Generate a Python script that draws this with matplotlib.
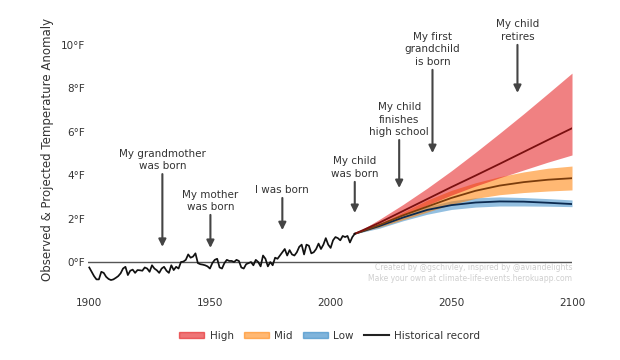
import matplotlib
matplotlib.use("Agg")
import matplotlib.pyplot as plt
from matplotlib.patches import Patch
from matplotlib.lines import Line2D

hist_years = list(range(1900, 2011))
hist_temp = [-0.25, -0.45, -0.65, -0.8, -0.8, -0.45, -0.5, -0.68, -0.78, -0.83,
             -0.8, -0.73, -0.65, -0.52, -0.3, -0.22, -0.6, -0.4, -0.35, -0.5,
             -0.37, -0.38, -0.4, -0.25, -0.3, -0.45, -0.15, -0.3, -0.38, -0.5,
             -0.3, -0.22, -0.4, -0.5, -0.15, -0.37, -0.22, -0.3, 0.0, 0.02,
             0.1, 0.35, 0.2, 0.25, 0.4, -0.05, -0.1, -0.12, -0.15, -0.2,
             -0.3, -0.05, 0.1, 0.15, -0.25, -0.3, -0.05, 0.1, 0.05, 0.05,
             0.0, 0.1, 0.05, -0.25, -0.3, -0.1, -0.05, 0.0, -0.15, 0.1,
             0.0, -0.2, 0.3, 0.15, -0.2, 0.0, -0.15, 0.2, 0.15, 0.3,
             0.45, 0.6, 0.3, 0.55, 0.35, 0.3, 0.45, 0.7, 0.8, 0.35,
             0.8, 0.75, 0.4, 0.45, 0.6, 0.85, 0.6, 0.8, 1.1, 0.8,
             0.65, 1.0, 1.15, 1.1, 1.0, 1.2, 1.15, 1.2, 0.9, 1.15, 1.3]

proj_years = [2010, 2020, 2030, 2040, 2050, 2060, 2070, 2080, 2090, 2100]
high_mean = [1.3, 1.8, 2.35, 2.9, 3.45, 3.98, 4.52, 5.07, 5.62, 6.16]
high_top = [1.3, 1.95, 2.65, 3.4, 4.2, 5.05, 5.93, 6.83, 7.76, 8.7]
high_bot = [1.3, 1.7, 2.15, 2.62, 3.08, 3.5, 3.88, 4.24, 4.6, 4.93]
mid_mean = [1.3, 1.7, 2.15, 2.55, 2.95, 3.28, 3.52, 3.68, 3.79, 3.86]
mid_top = [1.3, 1.75, 2.3, 2.85, 3.3, 3.65, 3.93, 4.15, 4.32, 4.42]
mid_bot = [1.3, 1.6, 1.95, 2.3, 2.65, 2.93, 3.1, 3.2, 3.27, 3.32]
low_mean = [1.3, 1.65, 2.05, 2.4, 2.62, 2.74, 2.79, 2.78, 2.73, 2.67]
low_top = [1.3, 1.7, 2.15, 2.55, 2.82, 2.96, 3.0, 2.97, 2.92, 2.86]
low_bot = [1.3, 1.55, 1.9, 2.2, 2.42, 2.53, 2.58, 2.58, 2.57, 2.55]

event_labels = ["My grandmother\nwas born", "My mother\nwas born", "I was born",
                "My child\nwas born", "My child\nfinishes\nhigh school",
                "My first\ngrandchild\nis born", "My child\nretires"]
event_years = [1930.3, 1950.2, 1980, 2010, 2028.4, 2042.2, 2077.4]
event_tip = [0.7, 0.65, 1.47, 2.26, 3.41, 5.02, 7.79]
event_tail = [4.05, 2.17, 2.95, 3.69, 5.62, 8.85, 10.0]

y_ticks = [0, 2, 4, 6, 8, 10]
y_tick_labels = ["0°F", "2°F", "4°F", "6°F", "8°F", "10°F"]
x_ticks = [1900, 1950, 2000, 2050, 2100]

fig = plt.figure(figsize=(6.2, 3.6), dpi=100)
ax = fig.add_axes([0.1412, 0.2058, 0.7814, 0.76])
ax.set_xlim(1899.3, 2100)
ax.set_ylim(-1.1, 11.5)

ax.axhline(0, color="#555555", lw=1.0, zorder=1)

ax.fill_between(proj_years, low_bot, low_top, color="#3a8cc8", alpha=0.55, lw=0, zorder=2)
ax.fill_between(proj_years, mid_bot, mid_top, color="#ff7f00", alpha=0.55, lw=0, zorder=3)
ax.fill_between(proj_years, high_bot, high_top, color="#e41a1c", alpha=0.55, lw=0, zorder=4)
ax.plot(proj_years, low_mean, color="#0b2a50", lw=1.3, zorder=5)
ax.plot(proj_years, mid_mean, color="#7a3c0c", lw=1.3, zorder=5)
ax.plot(proj_years, high_mean, color="#7a1010", lw=1.3, zorder=5)
ax.plot(hist_years, hist_temp, color="#111111", lw=1.25, zorder=6)

for lab, yr, tip, tail in zip(event_labels, event_years, event_tip, event_tail):
    ax.annotate("", xy=(yr, tip), xytext=(yr, tail),
                arrowprops=dict(arrowstyle="-|>", color="#444444", lw=1.5,
                                mutation_scale=11, shrinkA=0, shrinkB=0),
                annotation_clip=False, zorder=7)
    ax.text(yr, tail + 0.12, lab, ha="center", va="bottom", fontsize=7.5,
            color="#333333", linespacing=1.35, zorder=7)

ax.text(2100, -0.23, "Created by @gschivley, inspired by @aviandelights",
        ha="right", va="center", fontsize=5.5, color="#cfcfcf")
ax.text(2100, -0.78, "Make your own at climate-life-events.herokuapp.com",
        ha="right", va="center", fontsize=5.5, color="#cfcfcf")

ax.set_yticks(y_ticks)
ax.set_yticklabels(y_tick_labels)
ax.set_xticks(x_ticks)
ax.tick_params(axis="both", length=0, labelsize=7.5, labelcolor="#333333")
ax.tick_params(axis="x", pad=9)
ax.tick_params(axis="y", pad=1.5)
for s in ax.spines.values():
    s.set_visible(False)
ax.set_ylabel("Observed & Projected Temperature Anomaly", fontsize=8.5, color="#333333", labelpad=5)

handles = [Patch(facecolor="#e41a1c", edgecolor="#e41a1c", alpha=0.6),
           Patch(facecolor="#ff7f00", edgecolor="#ff7f00", alpha=0.55),
           Patch(facecolor="#3a8cc8", edgecolor="#3a8cc8", alpha=0.65),
           Line2D([0], [0], color="#222222", lw=1.5)]
fig.legend(handles, ["High", "Mid", "Low", "Historical record"], loc="center",
           bbox_to_anchor=(0.532, 0.067), ncol=4, frameon=False, fontsize=7.5,
           handlelength=2.4, handleheight=0.55, columnspacing=1.0, handletextpad=0.5,
           labelcolor="#333333")

fig.savefig("out.png", dpi=100)
